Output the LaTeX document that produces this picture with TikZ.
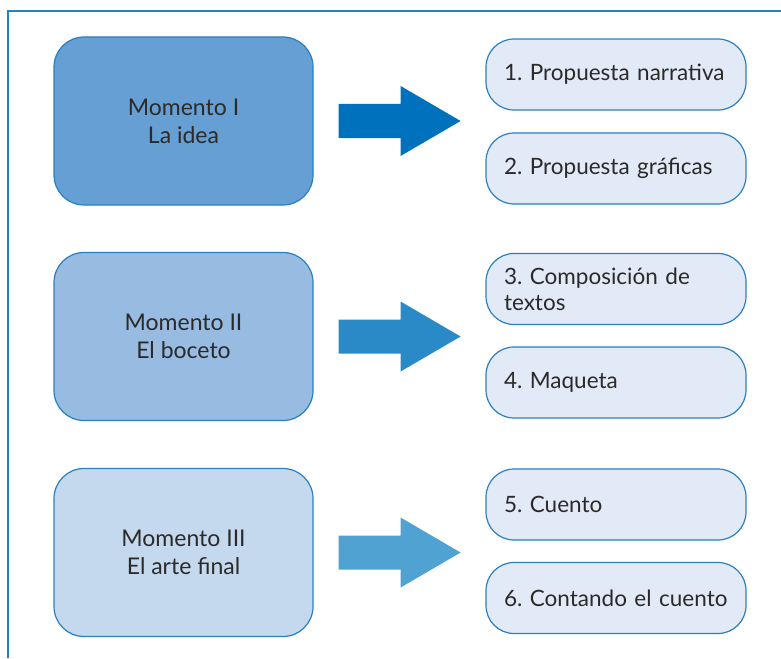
\documentclass[tikz,border=0pt]{standalone}
\usepackage{fontspec}
\setmainfont{Lato}
\frenchspacing
\definecolor{marco}{HTML}{2A7FC1}
\definecolor{texto}{HTML}{2B2A29}
\definecolor{momentoA}{HTML}{659FD3}
\definecolor{momentoB}{HTML}{98BBE1}
\definecolor{momentoC}{HTML}{C5D9EE}
\definecolor{pasofondo}{HTML}{E1EAF6}
\definecolor{flechaA}{HTML}{0071BC}
\definecolor{flechaB}{HTML}{2A8AC8}
\definecolor{flechaC}{HTML}{50A2D3}

\begin{document}
\begin{tikzpicture}[x=1pt, y=-1pt,
		momento/.style={draw=marco, line width=1.2pt, rounded corners=30pt, minimum width=259pt, minimum height=168pt, align=center, text=texto, font=\fontsize{23}{28}\selectfont},
		paso/.style={draw=marco, line width=1.2pt, fill=pasofondo, rounded corners=28pt, minimum height=71pt, text width=224pt, inner xsep=18pt, align=left, text=texto, font=\fontsize{22.5}{26}\selectfont}]
		\useasboundingbox (0,0) rectangle (781,658);
		\draw[marco, line width=1.5pt](8,658) -- (8,11) -- (781,11);
		%Momentos
		\node[momento, fill=momentoA] (m1) at (183.5,121) {Momento I\\La idea};
		\node[momento, fill=momentoB] (m2) at (183.5,336.5) {Momento II\\El boceto};
		\node[momento, fill=momentoC] (m3) at (183.5,552.5) {Momento III\\El arte final};
		%Pasos
		\node[paso] (p1) at (616,74.5) {1. Propuesta narrativa};
		\node[paso] (p2) at (616,168.5) {2. Propuesta gráficas};
		\node[paso] (p3) at (616,289) {3. Composición de\\textos};
		\node[paso] (p4) at (616,382.5) {4. Maqueta};
		\node[paso] (p5) at (616,504.5) {5. Cuento};
		\node[paso] (p6) at (616,598) {6. Contando el cuento};
		%Flechas
		\foreach \m/\c in {m1/flechaA, m2/flechaB, m3/flechaC}
			\fill[\c] (\m.east) ++(25,-17) -- ++(62,0) -- ++(0,-18) -- ++(60,35) -- ++(-60,35) -- ++(0,-18) -- ++(-62,0) -- cycle;
	\end{tikzpicture}
\end{document}
